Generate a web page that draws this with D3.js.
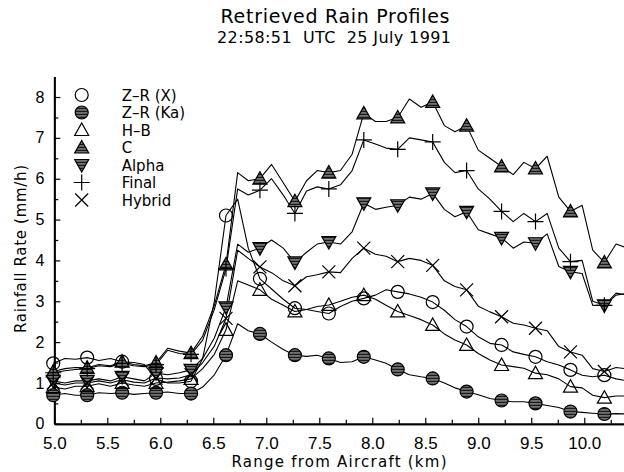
<!DOCTYPE html>
<html>
<head>
<meta charset="utf-8">
<script src="https://cdn.jsdelivr.net/npm/d3@7"></script>
<style>
  body { margin: 0; background: #fff; }
  svg { display: block; font-family: "DejaVu Sans", sans-serif; }
</style>
</head>
<body>
<svg id="chart" width="624" height="472"></svg>
<script>
// range from aircraft (km), every third point carries a marker
var rangeKm = [4.99, 5.10, 5.20, 5.31, 5.42, 5.53, 5.64, 5.75, 5.85, 5.96,
  6.07, 6.18, 6.29, 6.40, 6.51, 6.62, 6.73, 6.83, 6.94, 7.05,
  7.16, 7.27, 7.38, 7.48, 7.59, 7.70, 7.81, 7.92, 8.03, 8.13,
  8.24, 8.35, 8.46, 8.57, 8.68, 8.78, 8.89, 9.00, 9.11, 9.22,
  9.33, 9.43, 9.54, 9.65, 9.76, 9.87, 9.98, 10.08, 10.19, 10.30, 10.41];

// rainfall rate (mm/h) for each retrieval
var zrX = [1.48, 1.60, 1.58, 1.62, 1.55, 1.60, 1.52, 1.50, 1.45, 1.10,
  1.00, 1.00, 1.04, 1.60, 3.00, 5.10, 5.50, 4.30, 3.55, 3.30,
  3.05, 2.83, 2.80, 2.75, 2.70, 2.87, 3.00, 3.07, 3.15, 3.28,
  3.23, 3.18, 3.10, 2.98, 2.78, 2.55, 2.38, 2.13, 1.97, 1.93,
  1.76, 1.70, 1.64, 1.52, 1.44, 1.32, 1.19, 1.15, 1.19, 1.10, 1.05];
var zrKa = [0.70, 0.74, 0.70, 0.70, 0.76, 0.74, 0.76, 0.72, 0.74, 0.76,
  0.78, 0.74, 0.74, 0.90, 1.20, 1.68, 2.45, 2.28, 2.20, 2.00,
  1.82, 1.68, 1.65, 1.68, 1.60, 1.50, 1.52, 1.64, 1.56, 1.48,
  1.33, 1.20, 1.15, 1.11, 1.00, 0.88, 0.79, 0.71, 0.62, 0.57,
  0.54, 0.54, 0.50, 0.45, 0.40, 0.30, 0.28, 0.26, 0.24, 0.25, 0.24];
var hb = [0.90, 0.85, 0.92, 0.92, 0.98, 0.92, 1.00, 0.95, 0.92, 1.00,
  1.02, 1.05, 1.10, 1.35, 1.70, 2.30, 3.50, 3.40, 3.28, 3.05,
  2.90, 2.75, 2.80, 2.87, 2.91, 3.00, 3.10, 3.15, 3.05, 2.90,
  2.75, 2.65, 2.55, 2.42, 2.20, 2.05, 1.93, 1.72, 1.56, 1.44,
  1.40, 1.36, 1.24, 1.20, 1.10, 0.91, 0.88, 0.70, 0.64, 0.68, 0.68];
var cRate = [1.28, 1.35, 1.38, 1.37, 1.45, 1.42, 1.52, 1.45, 1.42, 1.50,
  1.85, 1.78, 1.73, 2.15, 2.90, 3.90, 6.15, 5.95, 6.00, 6.35,
  5.90, 5.45, 5.95, 6.20, 6.15, 6.20, 6.60, 7.60, 7.40, 7.40,
  7.50, 7.95, 7.75, 7.88, 7.30, 7.15, 7.30, 6.70, 6.50, 6.30,
  6.10, 6.40, 6.25, 6.55, 5.55, 5.20, 5.35, 4.25, 3.95, 4.40, 4.30];
var alpha = [1.05, 1.00, 1.05, 1.05, 1.10, 1.05, 1.15, 1.10, 1.05, 1.24,
  1.20, 1.25, 1.32, 1.60, 2.10, 2.85, 4.40, 4.20, 4.30, 4.50,
  4.30, 3.95, 4.20, 4.40, 4.45, 4.40, 4.70, 5.40, 5.25, 5.30,
  5.35, 5.55, 5.50, 5.64, 5.25, 5.07, 5.19, 4.75, 4.65, 4.55,
  4.30, 4.45, 4.42, 4.65, 3.85, 3.72, 3.68, 2.90, 2.90, 3.15, 3.20];
var finalRate = [1.25, 1.30, 1.33, 1.35, 1.42, 1.40, 1.48, 1.42, 1.40, 1.45,
  1.80, 1.72, 1.70, 2.05, 2.80, 3.80, 5.75, 5.60, 5.72, 6.00,
  5.60, 5.15, 5.70, 5.80, 5.75, 5.85, 6.20, 6.95, 6.85, 6.75,
  6.72, 7.00, 6.95, 6.90, 6.40, 6.15, 6.20, 5.75, 5.50, 5.20,
  4.95, 5.15, 4.95, 5.15, 4.30, 3.97, 4.00, 3.00, 2.90, 3.20, 3.15];
var hybrid = [1.00, 0.95, 1.00, 1.00, 1.05, 1.00, 1.08, 1.02, 1.00, 1.12,
  1.10, 1.12, 1.20, 1.50, 1.90, 2.58, 4.25, 4.05, 3.84, 3.70,
  3.50, 3.38, 3.60, 3.65, 3.72, 3.70, 4.05, 4.30, 4.15, 4.10,
  3.97, 4.05, 4.00, 3.88, 3.50, 3.36, 3.28, 2.88, 2.74, 2.62,
  2.46, 2.42, 2.34, 2.28, 1.89, 1.76, 1.68, 1.35, 1.28, 1.38, 1.34];

var seriesNames = ['Z\u2013R (X)', 'Z\u2013R (Ka)', 'H\u2013B', 'C', 'Alpha', 'Final', 'Hybrid'];
var seriesValues = [zrX, zrKa, hb, cRate, alpha, finalRate, hybrid];
var seriesMarks = ['circle', 'dot', 'triUp', 'triUpFill', 'triDown', 'plus', 'cross'];

var xTicks = [5.0, 5.5, 6.0, 6.5, 7.0, 7.5, 8.0, 8.5, 9.0, 9.5, 10.0];
var yTicks = [0, 1, 2, 3, 4, 5, 6, 7, 8];

var svg = d3.select('#chart');

var x = d3.scaleLinear().domain([5, 10.375]).range([54.3, 624]);
var y = d3.scaleLinear().domain([0, 8.5]).range([423.8, 76.6]);

// striped fill used by the solid markers
var defs = svg.append('defs');
var hatch = defs.append('pattern')
    .attr('id', 'hatch')
    .attr('width', 4).attr('height', 3)
    .attr('patternUnits', 'userSpaceOnUse');
hatch.append('rect').attr('width', 4).attr('height', 3).attr('fill', '#1a1a1a');
hatch.append('rect').attr('y', 1.5).attr('width', 4).attr('height', 0.9).attr('fill', '#c8c8c8');

function drawMarker(g, type, cx, cy) {
    var p;
    if (type === 'circle' || type === 'dot') {
        g.append('circle')
            .attr('cx', cx).attr('cy', cy).attr('r', 6.5)
            .attr('fill', type === 'dot' ? 'url(#hatch)' : 'none')
            .attr('stroke', '#000').attr('stroke-width', 1.2);
        return;
    }
    if (type === 'triUp' || type === 'triUpFill') {
        p = 'M' + (cx - 7) + ',' + (cy + 5.5) + 'L' + (cx + 7) + ',' + (cy + 5.5) + 'L' + cx + ',' + (cy - 7) + 'Z';
    } else if (type === 'triDown') {
        p = 'M' + (cx - 7) + ',' + (cy - 5.5) + 'L' + (cx + 7) + ',' + (cy - 5.5) + 'L' + cx + ',' + (cy + 7) + 'Z';
    } else if (type === 'plus') {
        p = 'M' + (cx - 8) + ',' + cy + 'H' + (cx + 8) + 'M' + cx + ',' + (cy - 8) + 'V' + (cy + 8);
    } else {
        p = 'M' + (cx - 6.5) + ',' + (cy - 6.5) + 'L' + (cx + 6.5) + ',' + (cy + 6.5) +
            'M' + (cx - 6.5) + ',' + (cy + 6.5) + 'L' + (cx + 6.5) + ',' + (cy - 6.5);
    }
    g.append('path')
        .attr('d', p)
        .attr('fill', (type === 'triUpFill' || type === 'triDown') ? 'url(#hatch)' : 'none')
        .attr('stroke', '#000').attr('stroke-width', 1.2);
}

// axes
var yAxis = d3.axisLeft(y).tickValues(yTicks).tickFormat(d3.format('d'))
    .tickSizeInner(-6).tickSizeOuter(0).tickPadding(10);
var yMinor = d3.axisLeft(y).tickValues([0.5, 1.5, 2.5, 3.5, 4.5, 5.5, 6.5, 7.5])
    .tickFormat('').tickSizeInner(-4).tickSizeOuter(0);
var xAxis = d3.axisBottom(x).tickValues(xTicks).tickFormat(d3.format('.1f'))
    .tickSizeInner(-6).tickSizeOuter(0).tickPadding(13);
var xMinor = d3.axisBottom(x).tickValues(d3.range(5.25, 10.3, 0.5))
    .tickFormat('').tickSizeInner(-4).tickSizeOuter(0);

function styleAxis(g, size) {
    g.select('.domain').attr('stroke', '#000').attr('stroke-width', 1.8);
    g.selectAll('.tick line').attr('stroke', '#000').attr('stroke-width', 1.2);
    g.selectAll('.tick text').attr('fill', '#000').style('font-size', size + 'px');
}

svg.append('g').attr('transform', 'translate(54.3,0)').call(yMinor).call(styleAxis, 15);
svg.append('g').attr('transform', 'translate(54.3,0)').call(yAxis).call(styleAxis, 16);
svg.append('g').attr('transform', 'translate(0,423.8)').call(xMinor).call(styleAxis, 17);
svg.append('g').attr('transform', 'translate(0,423.8)').call(xAxis).call(styleAxis, 17);

// profile lines
var line = d3.line()
    .x(function (d, i) { return x(rangeKm[i]); })
    .y(function (d) { return y(d); });

var plot = svg.append('g');
seriesValues.forEach(function (vals, s) {
    plot.append('path')
        .attr('d', line(vals))
        .attr('fill', 'none')
        .attr('stroke', '#000')
        .attr('stroke-width', 1.1)
        .attr('stroke-linejoin', 'round');
});

seriesValues.forEach(function (vals, s) {
    vals.forEach(function (v, i) {
        if (i % 3 === 0) drawMarker(plot, seriesMarks[s], x(rangeKm[i]), y(v));
    });
});

// legend
var legend = svg.append('g');
seriesNames.forEach(function (name, s) {
    var cy = 95 + s * 17.5;
    drawMarker(legend, seriesMarks[s], 81.7, cy);
    legend.append('text')
        .attr('x', 121.7).attr('y', cy + 5.5)
        .style('font-size', '15px')
        .text(name);
});

// titles
svg.append('text')
    .attr('x', 335).attr('y', 23)
    .attr('text-anchor', 'middle')
    .attr('textLength', 229).attr('lengthAdjust', 'spacing')
    .style('font-size', '19px')
    .text('Retrieved Rain Profiles');
svg.append('text')
    .attr('x', 334).attr('y', 43)
    .attr('text-anchor', 'middle')
    .attr('textLength', 234).attr('lengthAdjust', 'spacing')
    .attr('xml:space', 'preserve')
    .style('font-size', '16px')
    .text('22:58:51  UTC  25 July 1991');
svg.append('text')
    .attr('x', 339).attr('y', 467)
    .attr('text-anchor', 'middle')
    .attr('textLength', 215).attr('lengthAdjust', 'spacing')
    .style('font-size', '15px')
    .text('Range from Aircraft (km)');
svg.append('text')
    .attr('transform', 'translate(26,249) rotate(-90)')
    .attr('text-anchor', 'middle')
    .attr('textLength', 168).attr('lengthAdjust', 'spacing')
    .style('font-size', '15px')
    .text('Rainfall Rate (mm/h)');
</script>
</body>
</html>
